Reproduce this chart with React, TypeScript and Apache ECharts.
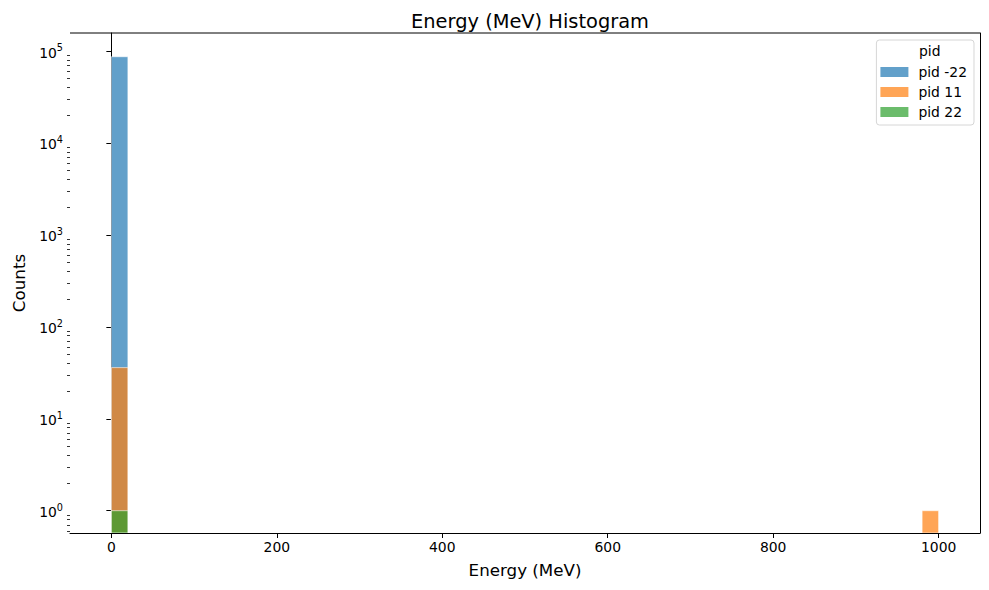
import { useEffect, useRef } from 'react'
import * as echarts from 'echarts'

// histogram bins: [binStart, binEnd, count]
const pidMinus22Bins = [[0, 20, 86700]]
const pid11Bins = [[0, 20, 36], [980, 1000, 1]]
const pid22Bins = [[0, 20, 1]]

const seriesNames = ['pid -22', 'pid 11', 'pid 22']
const seriesColors = ['rgba(31,119,180,0.7)', 'rgba(255,127,14,0.7)', 'rgba(44,160,44,0.7)']

const xTicks = [0, 200, 400, 600, 800, 1000]
const yTicks = [1, 10, 100, 1000, 10000, 100000]

const X_MIN = -50
const X_MAX = 1050
const Y_MIN = 0.572
const Y_MAX = 157000

const FONT = 'DejaVu Sans'

// matplotlib style minor ticks on the log axis
const yMinorTicks: number[] = []
for (let e = -1; e <= 5; e++) {
  for (let k = 2; k <= 9; k++) {
    const v = k * Math.pow(10, e)
    if (v > Y_MIN && v < Y_MAX) yMinorTicks.push(v)
  }
}

export default function App() {
  const chartRef = useRef<HTMLDivElement>(null)

  useEffect(() => {
    document.body.style.margin = '0'
    if (!chartRef.current) return
    const chart = echarts.init(chartRef.current, null, { renderer: 'svg' })

    const makeSeries = (name: string, bins: number[][], color: string) => ({
      name,
      type: 'custom',
      xAxisIndex: 0,
      yAxisIndex: 0,
      itemStyle: { color },
      data: bins,
      clip: true,
      renderItem: (params: any, api: any) => {
        const lo = api.value(0)
        const hi = api.value(1)
        const count = api.value(2)
        const topLeft = api.coord([lo, count])
        const bottomRight = api.coord([hi, Y_MIN])
        return {
          type: 'rect',
          shape: {
            x: topLeft[0],
            y: topLeft[1],
            width: bottomRight[0] - topLeft[0],
            height: bottomRight[1] - topLeft[1]
          },
          style: { fill: color, stroke: '#ffffff', lineWidth: 0.6 }
        }
      }
    })

    const supFormatter = (v: number) => {
      const e = Math.round(Math.log10(v))
      return `{base|10}{sup|${e}}`
    }

    const option: any = {
      animation: false,
      backgroundColor: '#ffffff',
      textStyle: { fontFamily: FONT },
      title: {
        text: 'Energy (MeV) Histogram',
        left: 525,
        top: 7,
        textAlign: 'center',
        textStyle: { fontFamily: FONT, fontSize: 19.4, fontWeight: 'normal', color: '#000' }
      },
      grid: { left: 70, right: 9, top: 33, bottom: 57 },
      legend: {
        data: seriesNames.map((n, i) => ({ name: n, itemStyle: { color: seriesColors[i] } })),
        orient: 'vertical',
        right: 15,
        top: 40,
        icon: 'rect',
        itemWidth: 28,
        itemHeight: 10,
        itemGap: 6,
        padding: [25, 7, 6, 4],
        borderColor: '#d6d6d6',
        borderWidth: 1,
        borderRadius: 3,
        backgroundColor: 'rgba(255,255,255,0.8)',
        textStyle: { fontFamily: FONT, fontSize: 13.9, color: '#000', padding: [0, 0, 0, 5] }
      },
      xAxis: {
        type: 'value',
        min: X_MIN,
        max: X_MAX,
        name: 'Energy (MeV)',
        nameLocation: 'middle',
        nameGap: 28,
        nameTextStyle: { fontFamily: FONT, fontSize: 16.7, color: '#000' },
        axisLine: { show: true, lineStyle: { color: '#000', width: 1 } },
        axisTick: { show: true, length: 5, customValues: xTicks, lineStyle: { color: '#000' } },
        axisLabel: {
          customValues: xTicks,
          formatter: (v: number) => String(v),
          fontFamily: FONT,
          fontSize: 13.9,
          color: '#000',
          margin: 7
        },
        splitLine: { show: false }
      },
      yAxis: [
        {
          type: 'log',
          min: Y_MIN,
          max: Y_MAX,
          name: 'Counts',
          nameLocation: 'middle',
          nameGap: 43,
          nameRotate: 90,
          nameTextStyle: { fontFamily: FONT, fontSize: 16.7, color: '#000' },
          axisLine: { show: true, lineStyle: { color: '#000', width: 1 } },
          axisTick: { show: true, length: 5, customValues: yTicks, lineStyle: { color: '#000' } },
          axisLabel: {
            customValues: yTicks,
            formatter: supFormatter,
            margin: 7,
            color: '#000',
            rich: {
              base: { fontFamily: FONT, fontSize: 13.9, color: '#000', verticalAlign: 'bottom', lineHeight: 17 },
              sup: { fontFamily: FONT, fontSize: 9.7, color: '#000', verticalAlign: 'top', lineHeight: 17, padding: [0, 0, 7, 0] }
            }
          },
          splitLine: { show: false }
        },
        {
          type: 'log',
          min: Y_MIN,
          max: Y_MAX,
          position: 'left',
          axisLine: { show: false },
          axisTick: { show: true, length: 3, customValues: yMinorTicks, lineStyle: { color: '#000', width: 0.8 } },
          axisLabel: { show: false },
          splitLine: { show: false }
        },
        {
          type: 'log',
          min: Y_MIN,
          max: Y_MAX,
          position: 'right',
          axisLine: { show: true, lineStyle: { color: '#000', width: 1 } },
          axisTick: { show: false },
          axisLabel: { show: false },
          splitLine: { show: false }
        }
      ],
      graphic: [
        {
          type: 'line',
          shape: { x1: 70, y1: 33, x2: 980, y2: 33 },
          style: { stroke: '#000', lineWidth: 1 },
          z: 10
        },
        {
          type: 'text',
          left: 919,
          top: 44,
          style: { text: 'pid', fontFamily: FONT, fontSize: 13.9, fill: '#000' },
          z: 10
        }
      ],
      series: [
        makeSeries(seriesNames[0], pidMinus22Bins, seriesColors[0]),
        makeSeries(seriesNames[1], pid11Bins, seriesColors[1]),
        makeSeries(seriesNames[2], pid22Bins, seriesColors[2])
      ]
    }

    chart.setOption(option)

    return () => {
      chart.dispose()
    }
  }, [])

  return <div ref={chartRef} style={{ width: 989, height: 590 }} />
}
